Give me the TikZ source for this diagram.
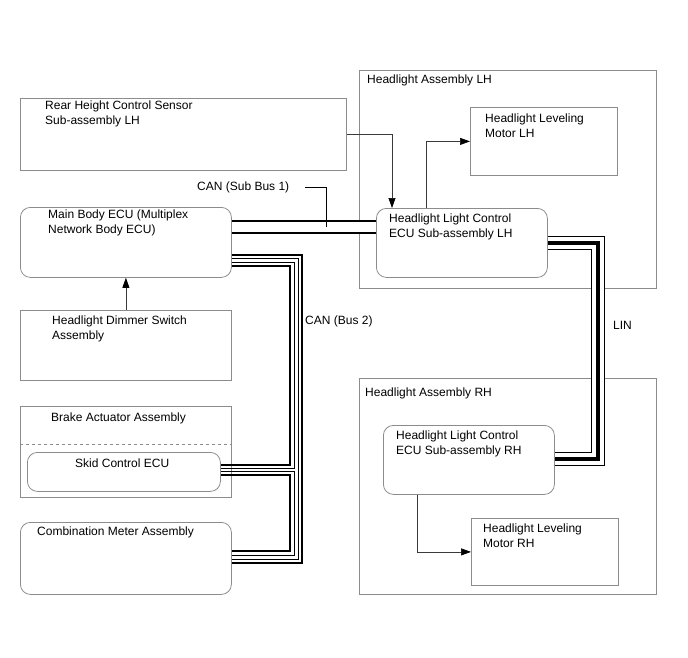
\documentclass[tikz,border=0pt]{standalone}
\usepackage{fontspec}
\setmainfont{Liberation Sans}
\usepackage{xcolor}
\usepackage{tikz}
\usetikzlibrary{calc,arrows.meta}
\definecolor{framec}{HTML}{8C8C8C}
\definecolor{wirec}{HTML}{000000}
\definecolor{linkc}{HTML}{3A3A3A}
\tikzset{
  box/.style={draw=framec,line width=0.8pt,anchor=north west,inner sep=0pt},
  ecu/.style={box,rounded corners=10pt},
  lbl/.style={anchor=north west,inner sep=0pt,align=left,font=\fontsize{12}{14.5}\selectfont},
  ar/.style={-{Triangle[length=10pt,width=7pt,color=black]},line width=0.7pt,linkc},
  lead/.style={line width=0.8pt,wirec},
  wthick/.style={line width=2.1pt,wirec},
  wthin/.style={line width=0.7pt,wirec},
  canbus/.style={draw=white,line width=3.4pt,
    preaction={draw=wirec,line width=14.2pt},
    preaction={draw=white,line width=10pt},
    preaction={draw=wirec,line width=4.8pt}},
  linbus/.style={draw=wirec,line width=4pt,
    preaction={draw=wirec,line width=13.2pt},
    preaction={draw=white,line width=11.8pt}}
}

\begin{document}
\begin{tikzpicture}[x=1pt,y=-1pt]
\useasboundingbox (0,0) rectangle (688,658);
\node[box,minimum width=326pt,minimum height=72pt] (rear) at (20,98) {};
\node[ecu,minimum width=211pt,minimum height=70pt] (mainecu) at (20,207) {};
\node[box,minimum width=211pt,minimum height=70pt] (dimmer) at (20,310) {};
\node[box,minimum width=211pt,minimum height=91pt] (brake) at (20,406) {};
\node[ecu,minimum width=193pt,minimum height=39pt] (skid) at (27,452) {};
\node[ecu,minimum width=211pt,minimum height=72pt] (meter) at (20,522) {};
\node[box,minimum width=297pt,minimum height=218pt] (hlal) at (359,70) {};
\node[box,minimum width=147pt,minimum height=68pt] (motorl) at (470,107) {};
\node[ecu,minimum width=171pt,minimum height=69pt] (hlecul) at (376,208) {};
\node[box,minimum width=297pt,minimum height=216pt] (hlar) at (359,378) {};
\node[ecu,minimum width=171pt,minimum height=69pt] (hlecur) at (383,425) {};
\node[box,minimum width=147pt,minimum height=67pt] (motorr) at (471,518) {};
\draw[framec,dashed,line width=0.6pt] (brake.west |- 0,444) -- (brake.east |- 0,444);

\node[lbl] (rear-t) at ($(rear.north west)+(25,3)$) {Rear Height Control Sensor\\Sub-assembly LH};
\node[lbl] (mainecu-t) at ($(mainecu.north west)+(28,3)$) {Main Body ECU (Multiplex\\Network Body ECU)};
\node[lbl] (dimmer-t) at ($(dimmer.north west)+(32,6)$) {Headlight Dimmer Switch\\Assembly};
\node[lbl] (brake-t) at ($(brake.north west)+(31,7)$) {Brake Actuator Assembly};
\node[lbl] (skid-t) at ($(skid.north west)+(48,7)$) {Skid Control ECU};
\node[lbl] (meter-t) at ($(meter.north west)+(17,5)$) {Combination Meter Assembly};
\node[lbl] (hlal-t) at ($(hlal.north west)+(8,5)$) {Headlight Assembly LH};
\node[lbl] (motorl-t) at ($(motorl.north west)+(15,7)$) {Headlight Leveling\\Motor LH};
\node[lbl] (hlecul-t) at ($(hlecul.north west)+(13,6)$) {Headlight Light Control\\ECU Sub-assembly LH};
\node[lbl] (hlar-t) at ($(hlar.north west)+(6,10)$) {Headlight Assembly RH};
\node[lbl] (hlecur-t) at ($(hlecur.north west)+(13,6)$) {Headlight Light Control\\ECU Sub-assembly RH};
\node[lbl] (motorr-t) at ($(motorr.north west)+(12,6)$) {Headlight Leveling\\Motor RH};
\node[lbl] (cansub) at (197,182) {CAN (Sub Bus 1)};
\node[lbl] (canbus2) at (305,316) {CAN (Bus 2)};
\node[lbl] (lin) at (613,321) {LIN};

\draw[ar] (rear.east) -| ($(hlecul.north west)+(16,0)$);
\draw[ar] ($(hlecul.north west)+(50,0)$) |- (motorl.west);
\draw[ar] (dimmer.north) -- (mainecu.south);
\draw[ar] ($(hlecur.south west)+(34,0)$) |- (motorr.west);

\draw[canbus] (mainecu.east |- 0,227) -- (hlecul.west |- 0,227);
\coordinate (tap1) at (326,227);
\draw[lead] ($(cansub.east)+(16,0)$) -| (tap1);

\draw[wthick] (mainecu.east |- 0,254.6) -| (302,563) -- (meter.east |- 0,563);
\draw[wthin] (mainecu.east |- 0,258.4) -| (298,559) -- (meter.east |- 0,559);
\draw[wthin] (mainecu.east |- 0,262.2) -| (294,468.5) -- (skid.east |- 0,468.5);
\draw[wthick] (mainecu.east |- 0,266) -| (290,465) -- (skid.east |- 0,465);
\draw[wthin] (skid.east |- 0,471.5) -| (294,555) -- (meter.east |- 0,555);
\draw[wthick] (skid.east |- 0,475) -| (290,551) -- (meter.east |- 0,551);

\draw[linbus] (hlecul.east |- 0,243) -| (598,459) -- (hlecur.east |- 0,459);
\end{tikzpicture}
\end{document}
